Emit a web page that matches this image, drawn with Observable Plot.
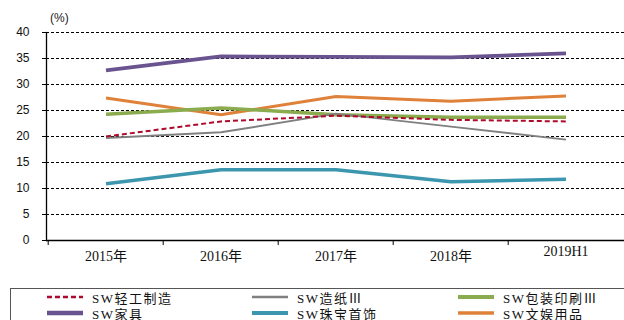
<!DOCTYPE html>
<html>
<head>
<meta charset="utf-8">
<script src="https://cdn.jsdelivr.net/npm/d3@7"></script>
<script src="https://cdn.jsdelivr.net/npm/@observablehq/plot@0.6"></script>
<style>
  body { margin: 0; background: #fff; }
  #wrap { position: relative; width: 624px; height: 320px; overflow: hidden; }
  #unit { position: absolute; left: 50px; top: 11px; font: 12px "Liberation Sans", Arial, sans-serif; color: #222; }
  #legend { position: absolute; left: 10px; top: 288px; width: 640px; height: 60px; border: 1px solid #555; box-sizing: border-box; }
  .item { position: absolute; display: flex; align-items: center; height: 16px;
          font: 13px "Liberation Serif", "Noto Sans CJK SC", serif; letter-spacing: 1.5px; color: #111; }
  .item svg { margin-right: 8px; }
</style>
</head>
<body>
<div id="wrap">
  <div id="chart"></div>
  <div id="unit">(%)</div>
  <div id="legend"></div>
</div>
<script>
// Periods on the x axis
const periods = ["2015年", "2016年", "2017年", "2018年", "2019H1"];

// Series names (Shenwan sub-industries) and their values, in %
const names = ["SW轻工制造", "SW造纸Ⅲ", "SW包装印刷Ⅲ", "SW家具", "SW珠宝首饰", "SW文娱用品"];
const qinggong = [20.0, 22.9, 24.0, 23.2, 22.9];
const zaozhi   = [19.7, 20.8, 24.4, 21.9, 19.4];
const baozhuang = [24.3, 25.5, 24.2, 23.7, 23.7];
const jiaju    = [32.7, 35.4, 35.3, 35.2, 36.0];
const zhubao   = [10.9, 13.6, 13.6, 11.3, 11.8];
const wenyu    = [27.4, 24.2, 27.7, 26.8, 27.8];

const colors = ["#ad0a2c", "#808080", "#8aab4e", "#6a5490", "#3c97ae", "#e0813a"];
const widths = [2, 2, 3.5, 3.8, 3.5, 3];
const dashes = ["5,3", null, null, null, null, null];

const yTicks = [0, 5, 10, 15, 20, 25, 30, 35, 40];

const seriesValues = [qinggong, zaozhi, baozhuang, jiaju, zhubao, wenyu];
const rows = names.flatMap((name, i) =>
  periods.map((p, j) => ({name, period: p, value: seriesValues[i][j]})));

// Draw order: purple/teal/orange under green, gray, then the dashed red on top
const drawOrder = [3, 4, 5, 2, 1, 0];

const plot = Plot.plot({
  width: 624,
  height: 282,
  marginLeft: 46,
  marginRight: 0,
  marginTop: 32,
  marginBottom: 42,
  x: {type: "band", domain: periods, padding: 0},
  y: {domain: [0, 40]},
  style: {background: "#fff"},
  marks: [
    Plot.ruleY(yTicks.filter(d => d > 0), {stroke: "#000", strokeWidth: 1, strokeDasharray: "3,2"}),
    Plot.axisY({ticks: yTicks, tickSize: 4, tickPadding: 13, label: null,
                fontFamily: "Liberation Sans, Arial, sans-serif", fontSize: 12, stroke: "#000", color: "#111"}),
    Plot.axisX({ticks: periods, tickSize: 5, text: null, dx: -(578 / periods.length) / 2, stroke: "#000", label: null}),
    Plot.axisX({ticks: periods.slice(0, 4), tickSize: 0, tickPadding: 11, label: null,
                fontFamily: "Liberation Serif, Noto Sans CJK SC, serif", fontSize: 14, color: "#111"}),
    Plot.axisX({ticks: periods.slice(4), tickSize: 0, tickPadding: 6, label: null,
                fontFamily: "Liberation Serif, serif", fontSize: 14, color: "#111"}),
    ...drawOrder.map(i => Plot.line(rows.filter(r => r.name === names[i]), {
      x: "period", y: "value", stroke: colors[i], strokeWidth: widths[i],
      strokeDasharray: dashes[i], strokeLinejoin: "round", strokeLinecap: "butt"
    })),
    Plot.ruleY([0], {stroke: "#000", strokeWidth: 1.3}),
    Plot.frame({anchor: "left", stroke: "#000", strokeWidth: 1.3})
  ]
});
document.getElementById("chart").appendChild(plot);

// Legend: two rows of three entries
const legend = document.getElementById("legend");
const colX = [36, 241, 447];
const rowY = [0, 16];
names.forEach((name, i) => {
  const item = document.createElement("div");
  item.className = "item";
  item.style.left = colX[i % 3] + "px";
  item.style.top = rowY[Math.floor(i / 3)] + "px";
  const sw = d3.create("svg").attr("width", 37).attr("height", 8);
  sw.append("line").attr("x1", 0).attr("x2", 36).attr("y1", 4).attr("y2", 4)
    .attr("stroke", colors[i]).attr("stroke-width", widths[i] + 0.5)
    .attr("stroke-dasharray", dashes[i]);
  item.appendChild(sw.node());
  const t = document.createElement("span");
  t.textContent = name;
  item.appendChild(t);
  legend.appendChild(item);
});
</script>
</body>
</html>
